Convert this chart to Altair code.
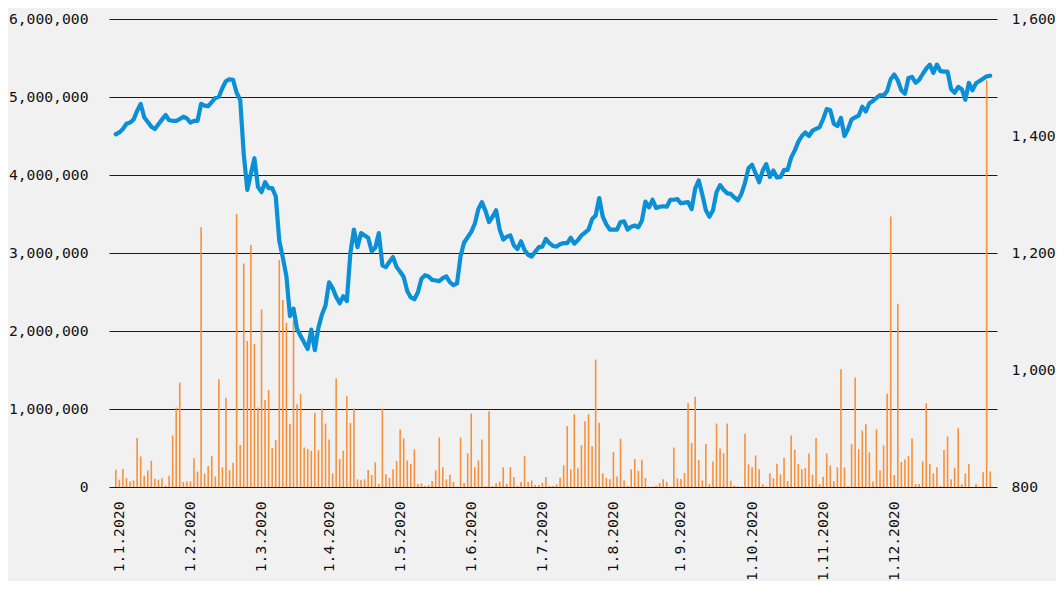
import json
import altair as alt
import pandas as pd

# Index level (right axis), one value per trading day
index_level = [
    1403, 1406, 1412, 1421, 1423, 1428, 1443, 1455, 1432, 1424,
    1416, 1412, 1420, 1428, 1436, 1427, 1426, 1426, 1429, 1433,
    1430, 1423, 1426, 1426, 1455, 1452, 1451, 1458, 1465, 1467,
    1482, 1494, 1497, 1496, 1474, 1462, 1369, 1308, 1335, 1362,
    1313, 1304, 1321, 1311, 1311, 1297, 1221, 1192, 1160, 1092,
    1105, 1070, 1058, 1047, 1036, 1069, 1034, 1072, 1095, 1110,
    1150, 1140, 1125, 1114, 1126, 1118, 1200, 1240, 1210, 1234,
    1230, 1226, 1203, 1209, 1234, 1179, 1176, 1185, 1193, 1176,
    1168, 1159, 1135, 1124, 1121, 1133, 1156, 1162, 1160, 1154,
    1153, 1152, 1157, 1160, 1150, 1145, 1148, 1195, 1218, 1227,
    1236, 1250, 1275, 1287, 1272, 1253, 1262, 1273, 1240, 1223,
    1228, 1230, 1213, 1207, 1220, 1205, 1197, 1194, 1202, 1210,
    1211, 1224, 1217, 1212, 1211, 1215, 1217, 1217, 1226, 1216,
    1222, 1230, 1235, 1240, 1258, 1264, 1294, 1262, 1249, 1240,
    1240, 1240, 1253, 1254, 1240, 1245, 1247, 1244, 1255, 1288,
    1278, 1291, 1277, 1279, 1280, 1279, 1291, 1291, 1292, 1285,
    1286, 1287, 1275, 1310, 1324, 1300, 1273, 1262, 1273, 1304,
    1316, 1308, 1302, 1301, 1295, 1290, 1301, 1320, 1345, 1351,
    1336, 1321, 1341, 1352, 1330, 1341, 1329, 1330, 1342, 1342,
    1363, 1375, 1390, 1400, 1406, 1400, 1409, 1412, 1415, 1429,
    1446, 1444, 1421, 1417, 1431, 1400, 1412, 1428, 1432, 1435,
    1450, 1442, 1456, 1460, 1465, 1470, 1469, 1477, 1497, 1505,
    1495, 1478, 1472, 1499, 1501, 1491, 1496, 1506, 1515, 1522,
    1508, 1522, 1511, 1510, 1510, 1480, 1474, 1484, 1480, 1462,
    1491, 1478, 1490, 1494, 1498, 1502, 1503,
]

# Traded volume (left axis), thousands
volume_k = [
    222, 94, 230, 115, 72, 85, 627, 392, 145, 213,
    337, 107, 94, 111, 17, 145, 661, 1019, 1339, 64,
    70, 72, 367, 198, 3330, 170, 268, 396, 134, 1380,
    252, 1145, 217, 310, 3500, 538, 2865, 1872, 3102, 1832,
    1019, 2277, 1115, 1243, 501, 603, 2911, 2398, 2106, 808,
    2136, 1062, 1190, 507, 486, 465, 951, 473, 1006, 814,
    610, 175, 1390, 358, 465, 1164, 820, 1006, 98, 90,
    98, 217, 154, 316, 38, 1006, 162, 115, 226, 333,
    738, 623, 341, 294, 482, 38, 47, 13, 26, 77,
    213, 635, 252, 98, 158, 64, 4, 635, 51, 431,
    942, 252, 341, 610, 8, 972, 13, 47, 68, 252,
    38, 256, 128, 13, 64, 397, 64, 85, 26, 26,
    55, 128, 13, 13, 34, 119, 277, 780, 226, 934,
    239, 537, 844, 934, 524, 1633, 823, 175, 115, 98,
    448, 136, 618, 85, 13, 226, 358, 209, 350, 115,
    4, 4, 17, 51, 98, 68, 4, 507, 111, 102,
    179, 1075, 563, 1156, 345, 85, 550, 38, 328, 814,
    495, 431, 814, 81, 17, 9, 4, 682, 290, 252,
    405, 226, 34, 4, 175, 111, 298, 162, 375, 77,
    661, 478, 294, 226, 243, 431, 158, 627, 38, 132,
    431, 277, 77, 252, 1510, 252, 9, 550, 1403, 486,
    725, 806, 443, 72, 738, 213, 533, 1194, 3467, 154,
    2350, 320, 354, 397, 623, 38, 38, 328, 1075, 294,
    175, 252, 13, 473, 648, 98, 247, 755, 34, 175,
    294, 0, 38, 4, 188, 5216, 200,
]

month_labels = ["1.1.2020", "1.2.2020", "1.3.2020", "1.4.2020", "1.5.2020", "1.6.2020",
                "1.7.2020", "1.8.2020", "1.9.2020", "1.10.2020", "1.11.2020", "1.12.2020"]
month_start_day = [1, 21, 41, 60, 80, 100, 120, 140, 159, 179, 199, 219]

left_ticks = [0, 1000000, 2000000, 3000000, 4000000, 5000000, 6000000]
right_ticks = [800, 1000, 1200, 1400, 1600]

n = len(index_level)
df = pd.DataFrame({
    "day": list(range(n)),
    "level": index_level,
    "volume": [v * 1000 for v in volume_k],
})

FONT = "DejaVu Sans Mono"
FS = 14.7
label_expr = f"{json.dumps(month_labels)}[indexof({json.dumps(month_start_day)}, datum.value)]"

x_enc = alt.X(
    "day:Q",
    scale=alt.Scale(domain=[-0.5, n - 0.5], nice=False, zero=False),
    axis=alt.Axis(
        values=month_start_day, labelExpr=label_expr, labelAngle=270,
        grid=False, ticks=False, domain=False, labelPadding=14,
        labelFont=FONT, labelFontSize=FS, labelColor="#111111", title=None,
        labelOverlap=False, labelFlush=False,
    ),
)

base = alt.Chart(df)

bars = base.mark_bar(color="#f7913a", size=1.6).encode(
    x=x_enc,
    y=alt.Y(
        "volume:Q",
        scale=alt.Scale(domain=[0, 6000000], nice=False),
        axis=alt.Axis(
            values=left_ticks, format=",.0f", orient="left", grid=True,
            gridColor="#1a1a1a", gridWidth=1, ticks=False, domain=False,
            labelPadding=21, labelFont=FONT, labelFontSize=FS,
            labelColor="#111111", title=None,
        ),
    ),
)

line = base.mark_line(color="#0b8fd6", strokeWidth=4.2, strokeJoin="round", strokeCap="round").encode(
    x=alt.X("day:Q"),
    y=alt.Y(
        "level:Q",
        scale=alt.Scale(domain=[800, 1600], nice=False, zero=False),
        axis=alt.Axis(
            values=right_ticks, format=",.0f", orient="right", grid=False,
            ticks=False, domain=False, labelPadding=14, labelFont=FONT,
            labelFontSize=FS, labelColor="#111111", title=None,
        ),
    ),
)

chart = (
    alt.layer(bars, line)
    .resolve_scale(y="independent")
    .properties(width=1048, height=573, background="#f1f1f1",
                autosize=alt.AutoSizeParams(type="fit", contains="padding"),
                padding={"left": 0, "top": 3, "right": 0, "bottom": 0})
    .configure_view(stroke=None)
)

chart.save("out.html", embed_options={"renderer": "svg", "actions": False})
